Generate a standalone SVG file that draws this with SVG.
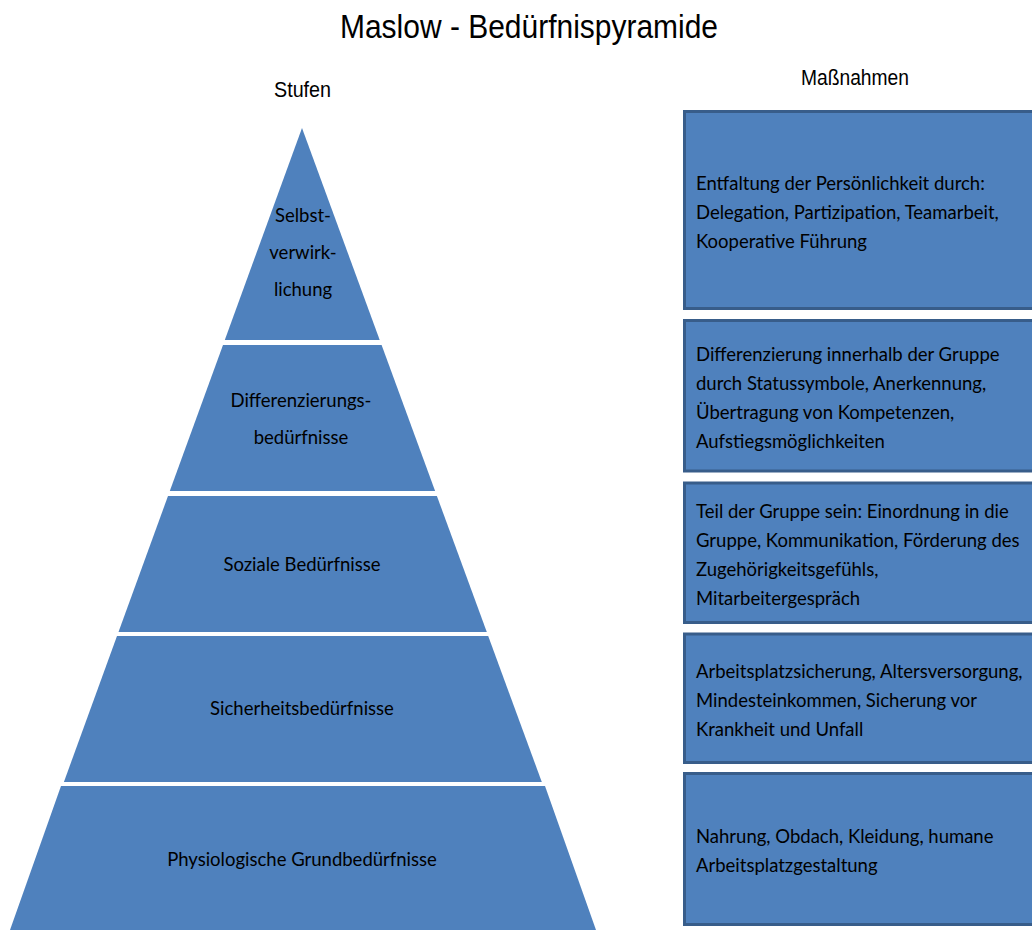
<svg xmlns="http://www.w3.org/2000/svg" width="1032" height="930" viewBox="0 0 1032 930">
<style>
  .title { font-family: "Liberation Sans", Arial, sans-serif; font-size: 34px; fill: #000; }
  .head { font-family: "Liberation Sans", Arial, sans-serif; font-size: 22px; fill: #000; }
  .lvl { fill: #4F81BD; }
  .box { fill: #4F81BD; stroke: #385D8A; stroke-width: 3; }
  .t { font-family: Lato, "Noto Sans", sans-serif; font-size: 18.5px; fill: #000; }
  .c { text-anchor: middle; }
</style>
<rect width="1032" height="930" fill="#fff"/>
<text class="title" x="340" y="37.5" textLength="378" lengthAdjust="spacingAndGlyphs">Maslow - Bedürfnispyramide</text>
<text class="head" x="274" y="97" textLength="57" lengthAdjust="spacingAndGlyphs">Stufen</text>
<text class="head" x="801" y="85" textLength="108" lengthAdjust="spacingAndGlyphs">Maßnahmen</text>

<g id="pyramid">
  <g id="level-1">
    <polygon class="lvl" points="302,128 379.7,340 224.8,340"/>
    <text class="t c" x="303" y="222">Selbst-</text>
    <text class="t c" x="303" y="259">verwirk-</text>
    <text class="t c" x="303" y="296">lichung</text>
  </g>
  <g id="level-2">
    <polygon class="lvl" points="223,345 381.6,345 435.1,491 169.8,491"/>
    <text class="t c" x="301" y="407">Differenzierungs-</text>
    <text class="t c" x="301" y="444">bedürfnisse</text>
  </g>
  <g id="level-3">
    <polygon class="lvl" points="168,496 436.9,496 486.8,632 118.5,632"/>
    <text class="t c" x="302" y="571">Soziale Bedürfnisse</text>
  </g>
  <g id="level-4">
    <polygon class="lvl" points="117,636 488.2,636 541.8,782 63.9,782"/>
    <text class="t c" x="302" y="715">Sicherheitsbedürfnisse</text>
  </g>
  <g id="level-5">
    <polygon class="lvl" points="61,786 545,786 596,930 10,930"/>
    <text class="t c" x="302" y="866">Physiologische Grundbedürfnisse</text>
  </g>
</g>

<g id="measures">
  <g id="measure-1">
    <rect class="box" x="684.5" y="111.5" width="360" height="197"/>
    <text class="t" x="696" y="190">Entfaltung der Persönlichkeit durch:</text>
    <text class="t" x="696" y="219">Delegation, Partizipation, Teamarbeit,</text>
    <text class="t" x="696" y="248">Kooperative Führung</text>
  </g>
  <g id="measure-2">
    <rect class="box" x="684.5" y="320.5" width="360" height="150.5"/>
    <text class="t" x="696" y="361">Differenzierung innerhalb der Gruppe</text>
    <text class="t" x="696" y="390">durch Statussymbole, Anerkennung,</text>
    <text class="t" x="696" y="419">Übertragung von Kompetenzen,</text>
    <text class="t" x="696" y="448">Aufstiegsmöglichkeiten</text>
  </g>
  <g id="measure-3">
    <rect class="box" x="684.5" y="483" width="360" height="139.5"/>
    <text class="t" x="696" y="518">Teil der Gruppe sein: Einordnung in die</text>
    <text class="t" x="696" y="547">Gruppe, Kommunikation, Förderung des</text>
    <text class="t" x="696" y="576">Zugehörigkeitsgefühls,</text>
    <text class="t" x="696" y="605">Mitarbeitergespräch</text>
  </g>
  <g id="measure-4">
    <rect class="box" x="684.5" y="634" width="360" height="128.5"/>
    <text class="t" x="696" y="678">Arbeitsplatzsicherung, Altersversorgung,</text>
    <text class="t" x="696" y="707">Mindesteinkommen, Sicherung vor</text>
    <text class="t" x="696" y="736">Krankheit und Unfall</text>
  </g>
  <g id="measure-5">
    <rect class="box" x="684.5" y="773.5" width="360" height="151"/>
    <text class="t" x="696" y="843">Nahrung, Obdach, Kleidung, humane</text>
    <text class="t" x="696" y="872">Arbeitsplatzgestaltung</text>
  </g>
</g>
<g id="connectors"/>
</svg>
